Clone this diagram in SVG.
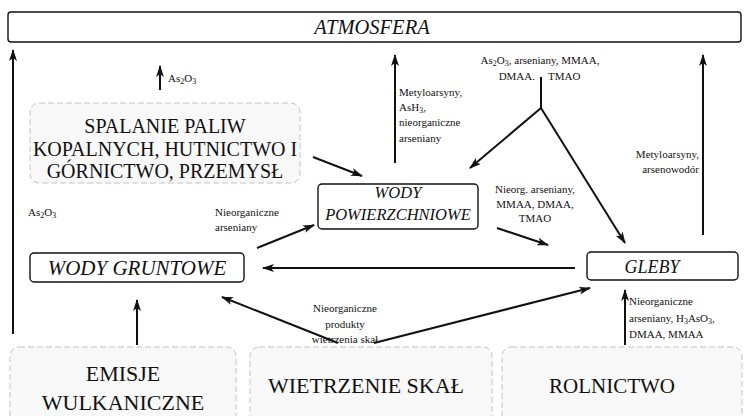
<svg xmlns="http://www.w3.org/2000/svg" width="747" height="416" viewBox="0 0 747 416" font-family="'Liberation Serif', 'Times New Roman', serif">
  <style>
    text { font-family: 'Liberation Serif', 'Times New Roman', serif; fill: #111; }
    .box { fill: #ffffff; stroke: #111; stroke-width: 1.4; }
    .soft { fill: #f8f8f8; stroke: #c4c4c4; stroke-width: 1; stroke-dasharray: 6 3; }
    .big { font-size: 20px; text-anchor: middle; }
    .low { font-size: 22px; text-anchor: middle; }
    .ital { font-style: italic; text-anchor: middle; }
    .lbl { font-size: 11px; }
    .c { text-anchor: middle; }
    .r { text-anchor: end; }
    .con line { stroke: #111; stroke-width: 2; fill: none; }
    .con .arr { marker-end: url(#head); }
  </style>
  <defs>
    <marker id="head" viewBox="0 0 12 8" refX="11" refY="4" markerWidth="12" markerHeight="8" markerUnits="userSpaceOnUse" orient="auto">
      <path d="M0,0 L12,4 L0,8 L3,4 Z" fill="#111"/>
    </marker>
  </defs>
  <rect width="747" height="416" fill="#ffffff"/>

  <g id="atmosfera">
    <rect class="box" x="8" y="12" width="733" height="30" rx="3"/>
    <text class="ital" x="372" y="34" style="font-size:20.5px">ATMOSFERA</text>
  </g>

  <g id="spalanie">
    <rect class="soft" x="30" y="103" width="270" height="80" rx="9"/>
    <text class="big" x="165" y="133">SPALANIE PALIW</text>
    <text class="big" x="165" y="156">KOPALNYCH, HUTNICTWO I</text>
    <text class="big" x="165" y="178">GÓRNICTWO, PRZEMYSŁ</text>
  </g>

  <g id="wody-powierzchniowe">
    <rect class="box" x="318" y="184" width="160" height="45" rx="4"/>
    <text class="ital" x="398" y="198" style="font-size:16.5px">WODY</text>
    <text class="ital" x="398" y="220" style="font-size:16.5px">POWIERZCHNIOWE</text>
  </g>

  <g id="wody-gruntowe">
    <rect class="box" x="30" y="253" width="214" height="29" rx="4"/>
    <text class="ital" x="137" y="275" style="font-size:21px">WODY GRUNTOWE</text>
  </g>

  <g id="gleby">
    <rect class="box" x="587" y="252" width="151" height="28" rx="4"/>
    <text class="ital" x="652" y="273" style="font-size:18px">GLEBY</text>
  </g>

  <g id="emisje">
    <rect class="soft" x="10" y="347" width="226" height="80" rx="9"/>
    <text class="low" x="123" y="381">EMISJE</text>
    <text class="low" x="123" y="410">WULKANICZNE</text>
  </g>

  <g id="wietrzenie">
    <rect class="soft" x="250" y="347" width="242" height="80" rx="9"/>
    <text class="low" x="366" y="393">WIETRZENIE SKAŁ</text>
  </g>

  <g id="rolnictwo">
    <rect class="soft" x="502" y="347" width="240" height="80" rx="9"/>
    <text class="low" x="612" y="393" style="font-size:21px">ROLNICTWO</text>
  </g>

  <g class="con" id="connectors">
    <line class="arr" x1="13" y1="334" x2="13" y2="50"/>
    <line class="arr" x1="160" y1="90" x2="160" y2="66"/>
    <line class="arr" x1="313" y1="157" x2="362" y2="176"/>
    <line class="arr" x1="257" y1="248" x2="314" y2="225"/>
    <line class="arr" x1="395" y1="163" x2="395" y2="55"/>
    <line x1="541" y1="108" x2="541" y2="77"/>
    <line class="arr" x1="541" y1="108" x2="470" y2="168"/>
    <line class="arr" x1="541" y1="108" x2="625" y2="243"/>
    <line class="arr" x1="703" y1="235" x2="703" y2="55"/>
    <line class="arr" x1="497" y1="228" x2="548" y2="245"/>
    <line class="arr" x1="575" y1="268" x2="263" y2="268"/>
    <line class="arr" x1="338" y1="343" x2="222" y2="297"/>
    <line class="arr" x1="374" y1="343" x2="590" y2="288"/>
    <line class="arr" x1="137" y1="345" x2="137" y2="300"/>
    <line class="arr" x1="625" y1="345" x2="625" y2="290"/>
  </g>

  <g id="labels">
    <text class="lbl" x="168" y="82">As<tspan font-size="8" dy="2">2</tspan><tspan dy="-2">O</tspan><tspan font-size="8" dy="2">3</tspan></text>
    <text class="lbl" x="28" y="216">As<tspan font-size="8" dy="2">2</tspan><tspan dy="-2">O</tspan><tspan font-size="8" dy="2">3</tspan></text>
    <text class="lbl" x="215" y="216">Nieorganiczne</text>
    <text class="lbl" x="215" y="231">arseniany</text>
    <text class="lbl" x="399" y="96">Metyloarsyny,</text>
    <text class="lbl" x="399" y="111">AsH<tspan font-size="8" dy="2">3</tspan><tspan dy="-2">,</tspan></text>
    <text class="lbl" x="399" y="126">nieorganiczne</text>
    <text class="lbl" x="399" y="142">arseniany</text>
    <text class="lbl c" x="540" y="64">As<tspan font-size="8" dy="2">2</tspan><tspan dy="-2">O</tspan><tspan font-size="8" dy="2">3</tspan><tspan dy="-2">, arseniany, MMAA,</tspan></text>
    <text class="lbl r" x="535" y="80">DMAA.</text>
    <text class="lbl" x="548" y="80">TMAO</text>
    <text class="lbl r" x="699" y="158">Metyloarsyny,</text>
    <text class="lbl r" x="699" y="173">arsenowodór</text>
    <text class="lbl c" x="535" y="193">Nieorg. arseniany,</text>
    <text class="lbl c" x="535" y="208">MMAA, DMAA,</text>
    <text class="lbl c" x="535" y="222">TMAO</text>
    <text class="lbl c" x="345" y="312">Nieorganiczne</text>
    <text class="lbl c" x="345" y="328">produkty</text>
    <text class="lbl c" x="345" y="343">wietrzenia skał</text>
    <text class="lbl" x="629" y="305">Nieorganiczne</text>
    <text class="lbl" x="629" y="322">arseniany, H<tspan font-size="8" dy="2">3</tspan><tspan dy="-2">AsO</tspan><tspan font-size="8" dy="2">3</tspan><tspan dy="-2">,</tspan></text>
    <text class="lbl" x="629" y="338">DMAA, MMAA</text>
  </g>
</svg>
